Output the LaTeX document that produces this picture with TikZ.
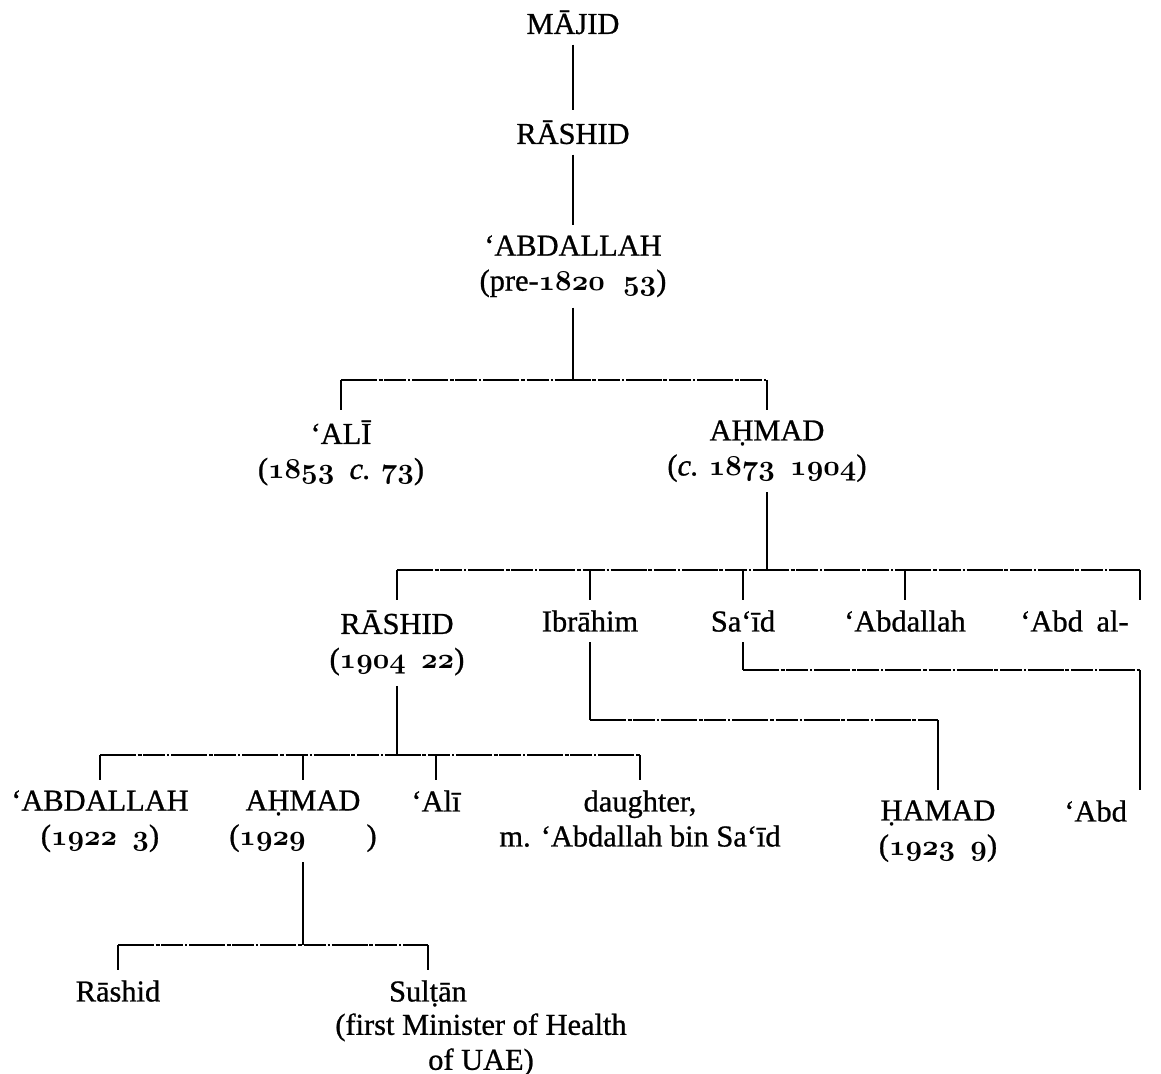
\documentclass[tikz,border=0pt]{standalone}
\usepackage{fontspec}
\setmainfont{Liberation Serif}[FakeBold=0.8]
\newcommand\osn[1]{{\usefont{OML}{cmm}{b}{it}#1}}
\begin{document}
\begin{tikzpicture}[x=0.5pt,y=-0.5pt,
  person/.style={anchor=north,inner xsep=2pt,inner ysep=5pt,align=center,
    font=\fontsize{15.2}{17.5}\selectfont},
  vline/.style={line width=1.2pt},
  hline/.style={line width=1pt,
    dash pattern=on 18pt off 0.8pt on 2pt off 0.8pt on 11pt off 1pt on 1pt off 1pt}]
\useasboundingbox (0,0) rectangle (1161,1074);
\fill[white] (0,0) rectangle (1161,1074);
\clip (0,0) rectangle (1161,1074);

% generations 1-3
\node[person] (majid)  at (573,0)   {MĀJID};
\node[person] (rashidA) at (573,110) {RĀSHID};
\node[person] (abdA)   at (573,225) {‘ABDALLAH\\(pre-\osn{1820}\hspace{0.6em}\osn{53})};
\draw[vline] (majid.south) -- (rashidA.north);
\draw[vline] (rashidA.south) -- (abdA.north);

% children of 'Abdallah
\node[person] (aliA)   at (341,410) {‘ALĪ\\(\osn{1853}\hspace{0.5em}\textit{c.} \osn{73})};
\node[person] (ahmadA) at (767,410) {AḤMAD\\(\textit{c.} \osn{1873}\hspace{0.5em}\osn{1904})};
\coordinate (barA) at (573,380);
\draw[vline] (abdA.south) -- (barA);
\draw[hline] (aliA.north |- barA) -- (ahmadA.north |- barA);
\draw[vline] (aliA.north |- barA) -- (aliA.north);
\draw[vline] (ahmadA.north |- barA) -- (ahmadA.north);

% children of Ahmad
\node[person] (rashidB) at (397,600) {RĀSHID\\(\osn{1904}\hspace{0.5em}\osn{22})};
\node[person] (ibrahim) at (590,600) {Ibrāhim};
\node[person] (saidB)   at (743,600) {Sa‘īd};
\node[person] (abdB)    at (905,600) {‘Abdallah};
\node[person,anchor=north west] (abdH) at (1016,600) {‘Abd\hspace{0.45em}al-};
\coordinate (abdHtop) at (1140,600);
\coordinate (barB) at (767,570);
\draw[vline] (ahmadA.south) -- (barB);
\draw[hline] (rashidB.north |- barB) -- (abdHtop |- barB);
\foreach \n in {rashidB,ibrahim,saidB,abdB}
  \draw[vline] (\n.north |- barB) -- (\n.north);
\draw[vline] (abdHtop |- barB) -- (abdHtop);

% Ibrahim -> Hamad ; Sa'id -> 'Abd
\node[person] (hamad) at (938,790) {ḤAMAD\\(\osn{1923}\hspace{0.5em}\osn{9})};
\node[person,anchor=north west] (abdD) at (1060,790) {‘Abd};
\coordinate (abdDtop) at (1140,790);
\coordinate (barI) at (590,720);
\coordinate (barS) at (743,670);
\draw[vline] (ibrahim.south) -- (ibrahim.south |- barI);
\draw[hline] (ibrahim.south |- barI) -- (hamad.north |- barI);
\draw[vline] (hamad.north |- barI) -- (hamad.north);
\draw[vline] (saidB.south) -- (saidB.south |- barS);
\draw[hline] (saidB.south |- barS) -- (abdDtop |- barS);
\draw[vline] (abdDtop |- barS) -- (abdDtop);

% children of Rashid (1904-22)
\node[person] (abdC)     at (100,780) {‘ABDALLAH\\(\osn{1922}\hspace{0.5em}\osn{3})\hspace{1.2em}};
\node[person] (ahmadC)   at (303,780) {AḤMAD\\(\osn{1929}\hspace{2em})};
\node[person] (aliC)     at (436,780) {‘Alī};
\node[person] (daughter) at (640,780) {daughter,\\m. ‘Abdallah bin Sa‘īd};
\coordinate (barR) at (397,755);
\draw[vline] (rashidB.south) -- (barR);
\draw[hline] (abdC.north |- barR) -- (daughter.north |- barR);
\foreach \n in {abdC,ahmadC,aliC,daughter}
  \draw[vline] (\n.north |- barR) -- (\n.north);

% children of Ahmad (1929- )
\node[person] (rashidD) at (118,970) {Rāshid};
\node[person] (sultan)  at (428,970) {Sulṭān};
\node[person] (note)    at (481,1003) {(first Minister of Health\\of UAE)};
\coordinate (barC) at (303,945);
\draw[vline] (ahmadC.south) -- (barC);
\draw[hline] (rashidD.north |- barC) -- (sultan.north |- barC);
\draw[vline] (rashidD.north |- barC) -- (rashidD.north);
\draw[vline] (sultan.north |- barC) -- (sultan.north);
\end{tikzpicture}
\end{document}
